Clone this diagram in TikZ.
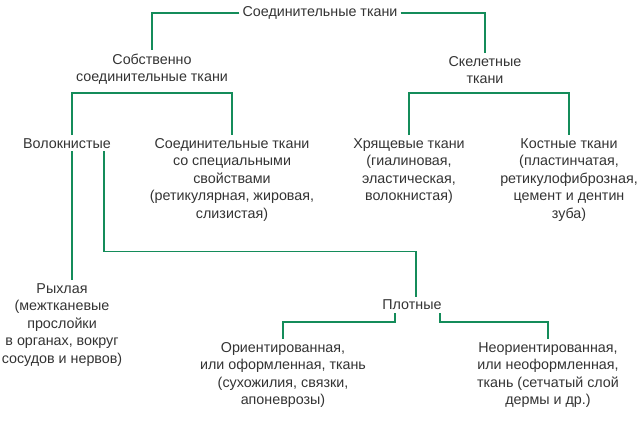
\documentclass[tikz,border=0pt]{standalone}
\usepackage{fontspec}
\setmainfont{Liberation Sans}
\usetikzlibrary{positioning,calc}
\definecolor{tgreen}{RGB}{20,140,90}
\tikzset{
  lbl/.style={align=center, inner sep=3pt, text=black!80,
    font=\fontsize{14.3}{17.5}\selectfont},
  link/.style={draw=tgreen, line width=1.6pt}
}
\begin{document}
\begin{tikzpicture}[x=1pt,y=1pt]
	\useasboundingbox (0,0) rectangle (639,-420);

	%upper levels
	\node[lbl] (root) at (320,-13) {Соединительные ткани};
	\node[lbl] (own) at (152,-69) {Собственно\\соединительные ткани};
	\node[lbl] (skel) at (485,-70) {Скелетные\\ткани};

	%second level
	\node[lbl, anchor=north] (fib) at (67,-135) {Волокнистые};
	\node[lbl, anchor=north] (spec) at (232,-135) {Соединительные ткани\\со специальными\\свойствами\\(ретикулярная, жировая,\\слизистая)};
	\node[lbl, anchor=north] (cart) at (409,-135) {Хрящевые ткани\\(гиалиновая,\\эластическая,\\волокнистая)};
	\node[lbl, anchor=north] (bone) at (569,-135) {Костные ткани\\(пластинчатая,\\ретикулофиброзная,\\цемент и дентин\\зуба)};

	%fibrous branch
	\node[lbl, anchor=north] (loose) at (62,-280) {Рыхлая\\(межтканевые\\прослойки\\в органах, вокруг\\сосудов и нервов)};
	\node[lbl] (dense) at (412,-305) {Плотные};
	\node[lbl, anchor=north] (ori) at (283,-339) {Ориентированная,\\или оформленная, ткань\\(сухожилия, связки,\\апоневрозы)};
	\node[lbl, anchor=north] (nonori) at (548,-339) {Неориентированная,\\или неоформленная,\\ткань (сетчатый слой\\дермы и др.)};

	%connectors
	\draw[link] (root.west) -| (own.north);
	\draw[link] (root.east) -| (skel.north);
	\draw[link] ([xshift=5]fib.north) |- (152,-93) -| (spec.north);
	\draw[link] (cart.north) |- (485,-93) -| (bone.north);
	\draw[link] ([xshift=5]fib.south) -- ([xshift=5]fib.south |- loose.north);
	\draw[link] ([xshift=37]fib.south) -- ++(0,-100) -| ([xshift=4]dense.north);
	\draw[link] ([xshift=-17]dense.south) -- ++(0,-9) -| (ori.north);
	\draw[link] ([xshift=28]dense.south) -- ++(0,-9) -| (nonori.north);

\end{tikzpicture}
\end{document}
